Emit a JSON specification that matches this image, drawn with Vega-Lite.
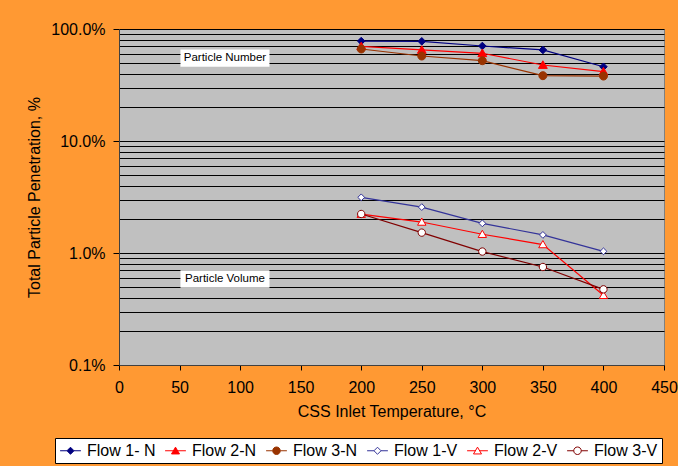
{
  "$schema": "https://vega.github.io/schema/vega-lite/v6.json",
  "width": 545,
  "height": 336,
  "autosize": {"type": "none"},
  "padding": {"left": 119, "top": 29, "right": 14, "bottom": 101},
  "background": "#FF9933",
  "config": {
    "font": "Liberation Sans",
    "view": {"fill": "#C0C0C0", "stroke": "#808080", "strokeWidth": 1},
    "axis": {
      "labelFont": "Liberation Sans", "labelFontSize": 16, "labelColor": "#000",
      "titleFont": "Liberation Sans", "titleFontSize": 16, "titleFontWeight": "normal", "titleColor": "#000",
      "domainColor": "#404040", "tickColor": "#000", "labelFlush": false, "labelOverlap": false
    },
    "legend": {
      "title": null, "orient": "none", "legendX": -64, "legendY": 409, "direction": "horizontal",
      "fillColor": "white", "strokeColor": "#000", "padding": 4,
      "symbolSize": 256, "symbolStrokeWidth": 1, "symbolOffset": 3, "symbolOpacity": 1, "symbolFillColor": "#FFFFFF",
      "labelFontSize": 16, "labelFont": "Liberation Sans", "labelColor": "#000", "labelOffset": 8, "columnPadding": 7
    }
  },
  "resolve": {"scale": {"stroke": "independent", "fill": "independent", "shape": "independent"}},
  "datasets": {
    "flows": [
      {"series": "Flow 1- N", "temp": 200, "value": 0.78},
      {"series": "Flow 1- N", "temp": 250, "value": 0.776},
      {"series": "Flow 1- N", "temp": 300, "value": 0.705},
      {"series": "Flow 1- N", "temp": 350, "value": 0.65},
      {"series": "Flow 1- N", "temp": 400, "value": 0.46},
      {"series": "Flow 2-N", "temp": 200, "value": 0.70},
      {"series": "Flow 2-N", "temp": 250, "value": 0.65},
      {"series": "Flow 2-N", "temp": 300, "value": 0.607},
      {"series": "Flow 2-N", "temp": 350, "value": 0.477},
      {"series": "Flow 2-N", "temp": 400, "value": 0.416},
      {"series": "Flow 3-N", "temp": 200, "value": 0.663},
      {"series": "Flow 3-N", "temp": 250, "value": 0.574},
      {"series": "Flow 3-N", "temp": 300, "value": 0.521},
      {"series": "Flow 3-N", "temp": 350, "value": 0.383},
      {"series": "Flow 3-N", "temp": 400, "value": 0.38},
      {"series": "Flow 1-V", "temp": 200, "value": 0.0314},
      {"series": "Flow 1-V", "temp": 250, "value": 0.0257},
      {"series": "Flow 1-V", "temp": 300, "value": 0.0184},
      {"series": "Flow 1-V", "temp": 350, "value": 0.0145},
      {"series": "Flow 1-V", "temp": 400, "value": 0.01035},
      {"series": "Flow 2-V", "temp": 200, "value": 0.0222},
      {"series": "Flow 2-V", "temp": 250, "value": 0.0189},
      {"series": "Flow 2-V", "temp": 300, "value": 0.0147},
      {"series": "Flow 2-V", "temp": 350, "value": 0.0119},
      {"series": "Flow 2-V", "temp": 400, "value": 0.00419},
      {"series": "Flow 3-V", "temp": 200, "value": 0.0223},
      {"series": "Flow 3-V", "temp": 250, "value": 0.0152},
      {"series": "Flow 3-V", "temp": 300, "value": 0.0103},
      {"series": "Flow 3-V", "temp": 350, "value": 0.0075},
      {"series": "Flow 3-V", "temp": 400, "value": 0.00474}
    ],
    "notes": [
      {"label": "Particle Number", "temp": 87.5, "value": 0.55},
      {"label": "Particle Volume", "temp": 87.5, "value": 0.00586}
    ]
  },
  "layer": [
    {
      "data": {"name": "flows"},
      "mark": {"type": "line", "strokeWidth": 1.2},
      "encoding": {
        "x": {
          "field": "temp", "type": "quantitative",
          "scale": {"domain": [0, 450], "nice": false, "zero": false},
          "axis": {
            "title": "CSS Inlet Temperature, °C",
            "values": [0, 50, 100, 150, 200, 250, 300, 350, 400, 450],
            "grid": false, "tickSize": 5, "labelPadding": 9, "titlePadding": 8
          }
        },
        "y": {
          "field": "value", "type": "quantitative",
          "scale": {"type": "log", "domain": [0.001, 1], "nice": false},
          "axis": {
            "title": "Total Particle Penetration, %",
            "values": [0.001, 0.002, 0.003, 0.004, 0.005, 0.006, 0.007, 0.008, 0.009, 0.01, 0.02, 0.03, 0.04, 0.05, 0.06, 0.07, 0.08, 0.09, 0.1, 0.2, 0.3, 0.4, 0.5, 0.6, 0.7, 0.8, 0.9, 1],
            "grid": true, "gridColor": "#000", "gridWidth": 1, "gridOpacity": 1,
            "tickSize": 6,
            "tickOpacity": {"condition": {"test": "abs(log(datum.value)/LN10 - round(log(datum.value)/LN10)) < 0.000001", "value": 1}, "value": 0},
            "labelExpr": "abs(log(datum.value)/LN10 - round(log(datum.value)/LN10)) < 0.000001 ? format(datum.value, '.1%') : ''",
            "labelPadding": 8, "titlePadding": 8
          }
        },
        "stroke": {
          "field": "series", "type": "nominal",
          "scale": {
            "domain": ["Flow 1- N", "Flow 2-N", "Flow 3-N", "Flow 1-V", "Flow 2-V", "Flow 3-V"],
            "range": ["#000080", "#FF0000", "#993300", "#333399", "#FF0000", "#800000"]
          },
          "legend": null
        }
      }
    },
    {
      "data": {"name": "flows"},
      "mark": {"type": "point", "filled": true, "strokeWidth": 1, "opacity": 1, "size": 64},
      "encoding": {
        "x": {"field": "temp", "type": "quantitative"},
        "y": {"field": "value", "type": "quantitative"},
        "stroke": {
          "field": "series", "type": "nominal",
          "scale": {
            "domain": ["Flow 1- N", "Flow 2-N", "Flow 3-N", "Flow 1-V", "Flow 2-V", "Flow 3-V"],
            "range": ["#000080", "#FF0000", "#993300", "#333399", "#FF0000", "#800000"]
          },
          "legend": null
        },
        "fill": {
          "field": "series", "type": "nominal",
          "scale": {
            "domain": ["Flow 1- N", "Flow 2-N", "Flow 3-N", "Flow 1-V", "Flow 2-V", "Flow 3-V"],
            "range": ["#000080", "#FF0000", "#993300", "#FFFFFF", "#FFFFFF", "#FFFFFF"]
          },
          "legend": null
        },
        "shape": {
          "field": "series", "type": "nominal",
          "scale": {
            "domain": ["Flow 1- N", "Flow 2-N", "Flow 3-N", "Flow 1-V", "Flow 2-V", "Flow 3-V"],
            "range": [
              "M0,-0.95L0.95,0L0,0.95L-0.95,0Z",
              "M0,-1.05L1.1,0.85L-1.1,0.85Z",
              "M1,0A1,1,0,1,1,-1,0A1,1,0,1,1,1,0Z",
              "M0,-0.85L0.85,0L0,0.85L-0.85,0Z",
              "M0,-1L1.05,0.8L-1.05,0.8Z",
              "M0.92,0A0.92,0.92,0,1,1,-0.92,0A0.92,0.92,0,1,1,0.92,0Z"
            ]
          },
          "legend": null
        }
      }
    },
    {
      "data": {"name": "flows"},
      "mark": {"type": "point", "filled": true, "strokeWidth": 1, "size": 0},
      "encoding": {
        "x": {"field": "temp", "type": "quantitative"},
        "y": {"field": "value", "type": "quantitative"},
        "stroke": {
          "field": "series", "type": "nominal",
          "scale": {
            "domain": ["Flow 1- N", "Flow 2-N", "Flow 3-N", "Flow 1-V", "Flow 2-V", "Flow 3-V"],
            "range": ["#000080", "#FF0000", "#993300", "#333399", "#FF0000", "#800000"]
          }
        },
        "fill": {
          "field": "series", "type": "nominal",
          "scale": {
            "domain": ["Flow 1- N", "Flow 2-N", "Flow 3-N", "Flow 1-V", "Flow 2-V", "Flow 3-V"],
            "range": ["#000080", "#FF0000", "#993300", "#FFFFFF", "#FFFFFF", "#FFFFFF"]
          }
        },
        "shape": {
          "field": "series", "type": "nominal",
          "scale": {
            "domain": ["Flow 1- N", "Flow 2-N", "Flow 3-N", "Flow 1-V", "Flow 2-V", "Flow 3-V"],
            "range": [
              "M-1.3,0H-0.44M0.44,0H1.3M0,-0.44L0.44,0L0,0.44L-0.44,0Z",
              "M-1.3,0H-0.26M0.26,0H1.3M0,-0.45L0.5,0.4L-0.5,0.4Z",
              "M-1.3,0H-0.47M0.47,0H1.3M0.47,0A0.47,0.47,0,1,1,-0.47,0A0.47,0.47,0,1,1,0.47,0Z",
              "M-1.3,0H-0.44M0.44,0H1.3M0,-0.44L0.44,0L0,0.44L-0.44,0Z",
              "M-1.3,0H-0.26M0.26,0H1.3M0,-0.45L0.5,0.4L-0.5,0.4Z",
              "M-1.3,0H-0.47M0.47,0H1.3M0.47,0A0.47,0.47,0,1,1,-0.47,0A0.47,0.47,0,1,1,0.47,0Z"
            ]
          }
        }
      }
    },
    {
      "data": {"name": "notes"},
      "mark": {"type": "point", "shape": "M-4.45,-0.87H4.45V0.87H-4.45Z", "size": 400, "filled": true, "fill": "#FFFFFF", "strokeWidth": 0, "opacity": 1},
      "encoding": {
        "x": {"field": "temp", "type": "quantitative"},
        "y": {"field": "value", "type": "quantitative"}
      }
    },
    {
      "data": {"name": "notes"},
      "mark": {"type": "text", "fontSize": 11.5, "font": "Liberation Sans", "color": "#000", "align": "center", "baseline": "middle"},
      "encoding": {
        "x": {"field": "temp", "type": "quantitative"},
        "y": {"field": "value", "type": "quantitative"},
        "text": {"field": "label"}
      }
    }
  ]
}
